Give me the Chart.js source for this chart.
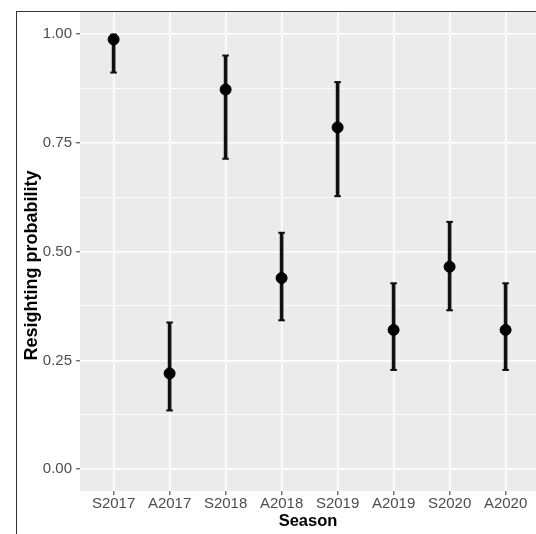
<!DOCTYPE html>
<html>
<head>
<meta charset="utf-8">
<script src="https://cdn.jsdelivr.net/npm/chart.js@4/dist/chart.umd.min.js"></script>
<style>
  html, body { margin: 0; padding: 0; background: #fff; overflow: hidden; }
  #wrap { position: relative; width: 536px; height: 534px; }
  #myChart { position: absolute; left: 0; top: 0; }
  #frame { position: absolute; left: 16px; top: 11px; right: -2px; bottom: -2px;
           border-left: 1.5px solid #333; border-top: 1.5px solid #333; pointer-events: none; }
</style>
</head>
<body>
<div id="wrap">
  <canvas id="myChart" width="536" height="534"></canvas>
  <div id="frame"></div>
</div>
<script>
var seasons = ['S2017', 'A2017', 'S2018', 'A2018', 'S2019', 'A2019', 'S2020', 'A2020'];
var estimate = [0.987, 0.220, 0.872, 0.439, 0.785, 0.320, 0.465, 0.320];
var lower = [0.911, 0.135, 0.713, 0.342, 0.627, 0.228, 0.365, 0.228];
var upper = [0.998, 0.337, 0.950, 0.543, 0.889, 0.427, 0.568, 0.427];
var yTicks = [0, 0.125, 0.25, 0.375, 0.5, 0.625, 0.75, 0.875, 1];
var yTitle = 'Resighting probability';

function isMajor(v) {
    return Math.abs(v * 4 - Math.round(v * 4)) < 1e-6;
}

// grey ggplot panel behind the grid
var panelBg = {
    id: 'panelBg',
    beforeDraw: function (chart) {
        var a = chart.chartArea;
        var c = chart.ctx;
        c.save();
        c.fillStyle = '#EBEBEB';
        c.fillRect(a.left, a.top, a.right - a.left, a.bottom - a.top);
        c.restore();
    }
};

// y title, drawn by hand so it can sit a little below the panel centre like the original
var yTitlePlugin = {
    id: 'yTitle',
    afterDraw: function (chart) {
        var a = chart.chartArea;
        var c = chart.ctx;
        c.save();
        c.translate(32, (a.top + a.bottom) / 2 + 14);
        c.rotate(-Math.PI / 2);
        c.textAlign = 'center';
        c.textBaseline = 'middle';
        c.fillStyle = '#000';
        c.font = 'bold 18px "Liberation Sans"';
        c.fillText(yTitle, 0, 0);
        c.restore();
    }
};

var ctx = document.getElementById('myChart').getContext('2d');
var myChart = new Chart(ctx, {
    type: 'bar',
    data: {
        datasets: [{
            type: 'line',
            label: 'Estimate',
            data: seasons.map(function (s, i) { return {x: i, y: estimate[i]}; }),
            showLine: false,
            pointRadius: 5.5,
            pointBorderWidth: 1,
            pointBackgroundColor: '#000',
            pointBorderColor: '#000',
            order: 0
        }, {
            type: 'line',
            label: 'Upper',
            data: seasons.map(function (s, i) { return {x: i, y: upper[i]}; }),
            showLine: false,
            pointStyle: 'line',
            pointRadius: 3.3,
            pointBorderWidth: 2,
            pointBorderColor: '#111',
            order: 1
        }, {
            type: 'line',
            label: 'Lower',
            data: seasons.map(function (s, i) { return {x: i, y: lower[i]}; }),
            showLine: false,
            pointStyle: 'line',
            pointRadius: 3.3,
            pointBorderWidth: 2,
            pointBorderColor: '#111',
            order: 2
        }, {
            type: 'bar',
            label: 'CI',
            data: seasons.map(function (s, i) { return {x: i, y: [lower[i], upper[i]]}; }),
            backgroundColor: '#111',
            barThickness: 3,
            order: 3
        }]
    },
    options: {
        responsive: false,
        animation: false,
        layout: {
            autoPadding: false,
            padding: { top: 12, right: 0, bottom: 0, left: 16 }
        },
        plugins: {
            legend: { display: false },
            tooltip: { enabled: false }
        },
        scales: {
            x: {
                type: 'linear',
                min: -0.6,
                max: 7.543,
                offset: false,
                afterBuildTicks: function (scale) {
                    scale.ticks = seasons.map(function (s, i) { return {value: i}; });
                },
                afterFit: function (scale) {
                    scale.height = 43;
                    scale.paddingLeft = 0;
                    scale.paddingRight = 0;
                },
                ticks: {
                    autoSkip: false,
                    maxRotation: 0,
                    padding: 0,
                    color: '#4D4D4D',
                    font: { family: 'Liberation Sans', size: 15 },
                    callback: function (v) { return seasons[v]; }
                },
                grid: {
                    offset: false,
                    color: '#FFFFFF',
                    lineWidth: 1.6,
                    tickLength: 4,
                    tickColor: '#333333',
                    tickWidth: 1
                },
                border: { display: false },
                title: {
                    display: true,
                    text: 'Season',
                    color: '#000',
                    padding: { top: 0, bottom: 2.5 },
                    font: { family: 'Liberation Sans', size: 16.5, weight: 'bold' }
                }
            },
            y: {
                type: 'linear',
                min: -0.05,
                max: 1.05,
                afterBuildTicks: function (scale) {
                    scale.ticks = yTicks.map(function (v) { return {value: v}; });
                },
                afterFit: function (scale) {
                    scale.width = 64;
                    scale.paddingTop = 0;
                    scale.paddingBottom = 0;
                },
                ticks: {
                    padding: 4,
                    color: '#4D4D4D',
                    font: { family: 'Liberation Sans', size: 15 },
                    callback: function (v) { return isMajor(v) ? v.toFixed(2) : ''; }
                },
                grid: {
                    color: '#FFFFFF',
                    lineWidth: function (c) { return c.tick && isMajor(c.tick.value) ? 1.6 : 0.8; },
                    tickLength: 4,
                    tickColor: function (c) { return c.tick && isMajor(c.tick.value) ? '#333333' : 'rgba(0,0,0,0)'; },
                    tickWidth: 1
                },
                border: { display: false },
                title: { display: false }
            }
        }
    },
    plugins: [panelBg, yTitlePlugin]
});
</script>
</body>
</html>
